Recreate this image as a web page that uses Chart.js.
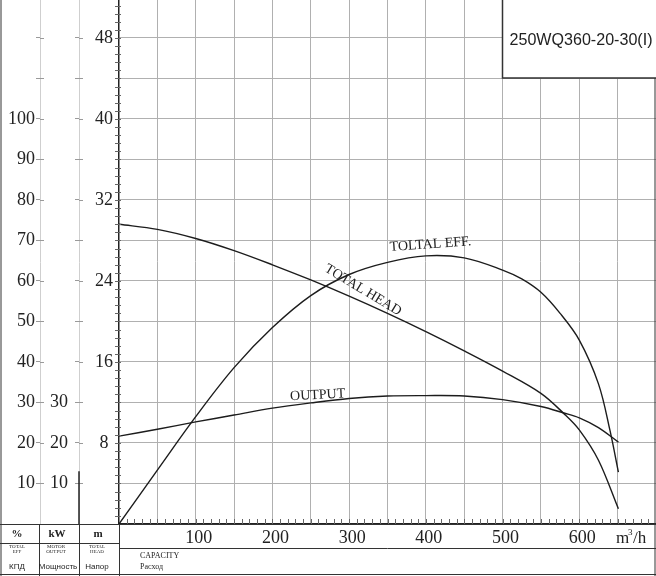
<!DOCTYPE html>
<html>
<head>
<meta charset="utf-8">
<script src="https://cdn.jsdelivr.net/npm/chart.js@4.4.1/dist/chart.umd.min.js"></script>
<style>
  html, body { margin: 0; padding: 0; background: #fff; }
  #graph { display: block; }
</style>
</head>
<body>
<canvas id="graph" width="656" height="576"></canvas>
<script>
// Courbe de hauteur (m) en fonction du débit (m3/h)
const debitHauteur = [0, 50, 100, 150, 200, 250, 300, 350, 400, 450, 500, 550, 580, 600, 625, 651];
const hauteur = [29.6, 29.1, 28.2, 27.0, 25.6, 24.1, 22.5, 20.8, 19.0, 17.1, 15.1, 12.9, 10.9, 9.3, 6.3, 1.5];

// Courbe de rendement (%)
const debitRendement = [0, 50, 100, 150, 200, 250, 300, 350, 400, 450, 500, 525, 550, 575, 600, 625, 640, 651];
const rendement = [0, 13.3, 26.5, 38.6, 48.5, 56.4, 61.6, 64.6, 66.2, 65.7, 62.7, 60.5, 57.2, 52.0, 45.4, 34.6, 23.1, 12.8];

// Courbe de puissance (kW)
const debitPuissance = [0, 50, 100, 150, 200, 250, 300, 350, 400, 450, 500, 550, 580, 600, 625, 651];
const puissance = [21.7, 23.4, 25.2, 26.9, 28.6, 29.9, 31.0, 31.6, 31.7, 31.6, 30.7, 29.0, 27.4, 26.2, 23.8, 20.2];

// Graduations affichées
const graduationsPct = [10, 20, 30, 40, 50, 60, 70, 80, 90, 100];
const graduationsKw = [10, 20, 30];
const graduationsM = [8, 16, 24, 32, 40, 48];
const graduationsDebit = [100, 200, 300, 400, 500, 600];

// Bornes des axes
const MAX_M = 51.75;
const MAX_PCT = MAX_M * 2.5;
const MAX_DEBIT = 700;

// Textes posés sur les courbes (coordonnées en unités du graphique)
const etiquettes = [
    {texte: 'TOLTAL EFF.', x: 406, y: 69, axe: 'yPct', angle: -4},
    {texte: 'TOTAL HEAD', x: 318, y: 23.1, axe: 'yM', angle: 31},
    {texte: 'OUTPUT', x: 259, y: 31.8, axe: 'yKw', angle: -3}
];

const POLICE = "'Liberation Serif', 'DejaVu Serif', serif";
const GRILLE = '#b0b0b0';

function points(xs, ys) {
    return xs.map((v, i) => ({x: v, y: ys[i]}));
}

// Supprime les marges ajoutées par Chart.js autour des axes
function sansMarge(largeur, hauteurAxe) {
    return function (scale) {
        if (largeur !== null) scale.width = largeur;
        if (hauteurAxe !== null) scale.height = hauteurAxe;
        scale.paddingTop = 0;
        scale.paddingBottom = 0;
        scale.paddingLeft = 0;
        scale.paddingRight = 0;
    };
}

// Dessine le cadre, le cartouche et les textes
const decor = {
    id: 'decor',
    afterDraw(chart) {
        const ctx = chart.ctx;
        const area = chart.chartArea;
        const sx = chart.scales.x;
        const sm = chart.scales.yM;
        const sk = chart.scales.yKw;
        const W = chart.width, H = chart.height;
        ctx.save();

        // petites graduations sur l'axe des hauteurs et des débits
        ctx.strokeStyle = '#666';
        ctx.lineWidth = 1;
        ctx.beginPath();
        for (let i = 0; i * 0.8 <= MAX_M; i++) {
            const py = Math.round(sm.getPixelForValue(i * 0.8)) + 0.5;
            ctx.moveTo(area.left - 4, py);
            ctx.lineTo(area.left + 2, py);
        }
        for (let v = 10; v < MAX_DEBIT; v += 10) {
            const px = Math.round(sx.getPixelForValue(v)) + 0.5;
            ctx.moveTo(px, area.bottom);
            ctx.lineTo(px, area.bottom - 5);
        }
        ctx.stroke();

        // petits traits à droite des colonnes % et kW
        ctx.strokeStyle = '#9a9a9a';
        ctx.beginPath();
        for (let v = 10; v < MAX_PCT; v += 10) {
            const py = Math.round(sk.getPixelForValue(v)) + 0.5;
            ctx.moveTo(40, py); ctx.lineTo(44, py);
            ctx.moveTo(79, py); ctx.lineTo(83, py);
        }
        ctx.stroke();

        // trait foncé au bas de la colonne kW
        ctx.strokeStyle = '#222';
        ctx.lineWidth = 1.5;
        ctx.beginPath();
        ctx.moveTo(sk.right, sk.getPixelForValue(13));
        ctx.lineTo(sk.right, area.bottom);
        ctx.stroke();

        // cadre et tableau du bas
        ctx.strokeStyle = '#333';
        ctx.lineWidth = 1;
        ctx.beginPath();
        const yb = Math.round(area.bottom) + 0.5;
        ctx.moveTo(0, yb); ctx.lineTo(W, yb);
        [39.5, 79.5, Math.round(area.left) + 0.5].forEach(px => {
            ctx.moveTo(px, yb); ctx.lineTo(px, H);
        });
        ctx.moveTo(0, 543.5); ctx.lineTo(area.left, 543.5);
        ctx.moveTo(area.left, 548.5); ctx.lineTo(W, 548.5);
        ctx.moveTo(0, H - 1.5); ctx.lineTo(W, H - 1.5);
        ctx.moveTo(1, 0); ctx.lineTo(1, H);
        ctx.moveTo(W - 1, 0); ctx.lineTo(W - 1, H);
        ctx.stroke();

        ctx.fillStyle = '#222';
        ctx.textAlign = 'center';
        ctx.textBaseline = 'middle';
        ctx.font = 'bold 11px ' + POLICE;
        ctx.fillText('%', 17, 534);
        ctx.fillText('kW', 57, 534);
        ctx.fillText('m', 98, 534);
        ctx.font = '5px ' + POLICE;
        ctx.fillText('TOTAL', 17, 547);
        ctx.fillText('EFF', 17, 552);
        ctx.fillText('MOTOR', 56, 547);
        ctx.fillText('OUTPUT', 56, 552);
        ctx.fillText('TOTAL', 97, 547);
        ctx.fillText('HEAD', 97, 552);
        ctx.font = "8px 'Liberation Sans', sans-serif";
        ctx.fillText('КПД', 17, 567);
        ctx.fillText('Мощность', 58, 567);
        ctx.fillText('Напор', 97, 567);
        ctx.textAlign = 'left';
        ctx.font = '8px ' + POLICE;
        ctx.fillText('CAPACITY', 140, 556);
        ctx.fillText('Расход', 140, 567);

        // unité des débits
        ctx.font = '17px ' + POLICE;
        ctx.textBaseline = 'alphabetic';
        ctx.fillText('m', 616, 543);
        ctx.font = '9px ' + POLICE;
        ctx.fillText('3', 628, 535);
        ctx.font = '17px ' + POLICE;
        ctx.fillText('/h', 633, 543);

        // cartouche du modèle
        ctx.fillStyle = '#fff';
        ctx.fillRect(502, 0, W - 502, 78);
        ctx.strokeStyle = '#333';
        ctx.lineWidth = 1.5;
        ctx.beginPath();
        ctx.moveTo(502.5, 0); ctx.lineTo(502.5, 78); ctx.lineTo(W, 78);
        ctx.stroke();
        ctx.fillStyle = '#222';
        ctx.textAlign = 'center';
        ctx.textBaseline = 'middle';
        ctx.font = "17px 'Liberation Sans', Arial, sans-serif";
        ctx.fillText('250WQ360-20-30(I)', 581, 40, 143);

        // noms des courbes
        ctx.font = '14px ' + POLICE;
        etiquettes.forEach(e => {
            const px = sx.getPixelForValue(e.x);
            const py = chart.scales[e.axe].getPixelForValue(e.y);
            ctx.save();
            ctx.translate(px, py);
            ctx.rotate(e.angle * Math.PI / 180);
            ctx.fillText(e.texte, 0, 0);
            ctx.restore();
        });
        ctx.restore();
    }
};

const styleCourbe = {
    borderColor: '#1c1c1c',
    borderWidth: 1.4,
    pointRadius: 0,
    fill: false,
    tension: 0.35
};

new Chart(document.getElementById('graph'), {
    type: 'line',
    data: {
        datasets: [
            {label: 'TOTAL HEAD', data: points(debitHauteur, hauteur), yAxisID: 'yM', ...styleCourbe},
            {label: 'TOLTAL EFF.', data: points(debitRendement, rendement), yAxisID: 'yPct', ...styleCourbe},
            {label: 'OUTPUT', data: points(debitPuissance, puissance), yAxisID: 'yKw', ...styleCourbe}
        ]
    },
    options: {
        responsive: false,
        animation: false,
        layout: {padding: {left: 0, right: 0, top: 0, bottom: 27}},
        plugins: {legend: {display: false}, tooltip: {enabled: false}},
        scales: {
            x: {
                type: 'linear',
                min: 0,
                max: MAX_DEBIT,
                afterFit: sansMarge(null, 25),
                border: {color: '#222', width: 1.5},
                grid: {
                    color: c => (c.tick && c.tick.value % 50 === 0 && c.tick.value > 0) ? GRILLE : 'transparent',
                    drawTicks: false
                },
                ticks: {
                    stepSize: 50,
                    autoSkip: false,
                    maxRotation: 0,
                    padding: 3,
                    labelOffset: 3,
                    color: '#222',
                    font: {family: POLICE, size: 18},
                    callback: v => graduationsDebit.includes(v) ? String(v) : ''
                }
            },
            yM: {
                type: 'linear',
                position: 'left',
                weight: 1,
                min: 0,
                max: MAX_M,
                afterFit: sansMarge(40, null),
                border: {color: '#222', width: 1.5},
                grid: {
                    color: c => (c.tick && c.tick.value % 4 === 0 && c.tick.value > 0) ? GRILLE : 'transparent',
                    drawTicks: false
                },
                ticks: {
                    stepSize: 4,
                    autoSkip: false,
                    padding: 6,
                    crossAlign: 'center',
                    color: '#222',
                    font: {family: POLICE, size: 18},
                    callback: v => graduationsM.includes(v) ? String(v) : ''
                }
            },
            yKw: {
                type: 'linear',
                position: 'left',
                weight: 2,
                min: 0,
                max: MAX_PCT,
                afterFit: sansMarge(39, null),
                border: {color: '#cfcfcf', width: 1},
                grid: {
                    drawOnChartArea: false,
                    tickLength: 4,
                    tickColor: c => (c.tick && c.tick.value % 10 === 0 && c.tick.value > 0) ? '#9a9a9a' : 'transparent'
                },
                ticks: {
                    stepSize: 10,
                    autoSkip: false,
                    padding: 7,
                    color: '#222',
                    font: {family: POLICE, size: 18},
                    callback: v => graduationsKw.includes(v) ? String(v) : ''
                }
            },
            yPct: {
                type: 'linear',
                position: 'left',
                weight: 3,
                min: 0,
                max: MAX_PCT,
                afterFit: sansMarge(40, null),
                border: {color: '#cfcfcf', width: 1},
                grid: {
                    drawOnChartArea: false,
                    tickLength: 4,
                    tickColor: c => (c.tick && c.tick.value % 10 === 0 && c.tick.value > 0) ? '#9a9a9a' : 'transparent'
                },
                ticks: {
                    stepSize: 10,
                    autoSkip: false,
                    padding: 1,
                    color: '#222',
                    font: {family: POLICE, size: 18},
                    callback: v => graduationsPct.includes(v) ? String(v) : ''
                }
            }
        }
    },
    plugins: [decor]
});
</script>
</body>
</html>
